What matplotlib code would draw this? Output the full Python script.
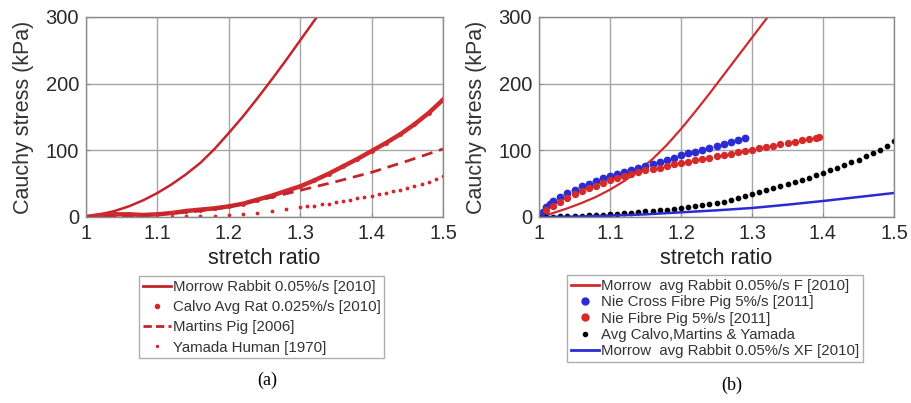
import matplotlib
matplotlib.use("Agg")
import matplotlib.pyplot as plt
from matplotlib.lines import Line2D

plt.rcParams['font.family'] = ['Liberation Sans', 'DejaVu Sans']

# ---------------- Panel (a) data ----------------
morrow_x = [1.00, 1.02, 1.04, 1.06, 1.08, 1.10, 1.12, 1.14, 1.16, 1.18, 1.20,
            1.22, 1.24, 1.26, 1.28, 1.30, 1.32, 1.33]
morrow_y = [0, 4, 9, 16, 25, 36, 49, 64, 81, 102, 126, 151, 178, 206, 235,
            265, 295, 310]

calvo_x = [1.00, 1.02, 1.04, 1.06, 1.08, 1.10, 1.12, 1.14, 1.16, 1.18, 1.20,
           1.22, 1.24, 1.26, 1.28, 1.30, 1.32, 1.34, 1.36, 1.38, 1.40, 1.42,
           1.44, 1.46, 1.48, 1.50]
calvo_y = [0, 3, 4, 4, 3, 4, 6, 9, 11, 13, 16, 20, 26, 32, 39, 46, 55, 65,
           76, 87, 99, 111, 124, 139, 156, 176]

martins_x = [1.00, 1.05, 1.10, 1.15, 1.20, 1.25, 1.30, 1.35, 1.40, 1.45, 1.50]
martins_y = [0, 1, 4, 8, 15, 27, 40, 53, 67, 84, 102]

yamada_x = [1.12, 1.14, 1.16, 1.18, 1.20, 1.22, 1.24, 1.26, 1.28, 1.30, 1.31,
            1.32, 1.33, 1.34, 1.35, 1.36, 1.37, 1.38, 1.39, 1.40, 1.41, 1.42,
            1.43, 1.44, 1.45, 1.46, 1.47, 1.48, 1.49, 1.50]
yamada_y = [0.5, 1, 1.5, 2, 3, 4, 6, 9, 12, 15, 16, 17, 19, 20, 22, 24, 26,
            28, 30, 32, 34, 36, 39, 41, 44, 47, 50, 53, 57, 61]

# ---------------- Panel (b) data ----------------
morrowF_x = [1.00, 1.02, 1.04, 1.06, 1.08, 1.10, 1.12, 1.14, 1.16, 1.18, 1.20,
             1.22, 1.24, 1.26, 1.28, 1.30, 1.32, 1.33]
morrowF_y = [0, 6, 13, 21, 30, 41, 54, 69, 87, 108, 132, 158, 185, 213, 241,
             269, 297, 311]

nieX_x = [1.00, 1.005, 1.01, 1.015, 1.02, 1.03, 1.04, 1.05, 1.06, 1.07, 1.08,
          1.09, 1.10, 1.11, 1.12, 1.13, 1.14, 1.15, 1.16, 1.17, 1.18, 1.19,
          1.20, 1.21, 1.22, 1.23, 1.24, 1.25, 1.26, 1.27, 1.28, 1.29]
nieX_y = [0, 8, 15, 20, 24, 30, 36, 41, 46, 50, 54, 58, 61, 64, 68, 71, 74,
          77, 80, 83, 86, 89, 93, 96, 98, 101, 104, 106, 109, 112, 115, 118]

nieF_x = [1.00, 1.01, 1.02, 1.03, 1.04, 1.05, 1.06, 1.07, 1.08, 1.09, 1.10,
          1.11, 1.12, 1.13, 1.14, 1.15, 1.16, 1.17, 1.18, 1.19, 1.20, 1.21,
          1.22, 1.23, 1.24, 1.25, 1.26, 1.27, 1.28, 1.29, 1.30, 1.31, 1.32,
          1.33, 1.34, 1.35, 1.36, 1.37, 1.38, 1.39, 1.395]
nieF_y = [0, 10, 17, 23, 29, 34, 39, 43, 47, 51, 55, 58, 61, 64, 67, 70, 72,
          74, 77, 79, 81, 83, 85, 87, 89, 91, 93, 95, 97, 99, 101, 103, 105,
          107, 109, 111, 113, 115, 117, 118, 120]

avg_x = [1.00, 1.01, 1.02, 1.03, 1.04, 1.05, 1.06, 1.07, 1.08, 1.09, 1.10,
         1.11, 1.12, 1.13, 1.14, 1.15, 1.16, 1.17, 1.18, 1.19, 1.20, 1.21,
         1.22, 1.23, 1.24, 1.25, 1.26, 1.27, 1.28, 1.29, 1.30, 1.31, 1.32,
         1.33, 1.34, 1.35, 1.36, 1.37, 1.38, 1.39, 1.40, 1.41, 1.42, 1.43,
         1.44, 1.45, 1.46, 1.47, 1.48, 1.49, 1.50]
avg_y = [0, 0.3, 0.6, 0.9, 1.2, 1.6, 2, 2.5, 3, 3.5, 4, 4.8, 5.6, 6.5, 7.4,
         8.3, 9.2, 10.2, 11.2, 12.2, 13.3, 14.5, 16, 17.5, 19.2, 21, 23, 25.5,
         28, 31, 34, 37, 40, 43, 46, 49, 52, 55, 59, 62.5, 66, 70, 74, 78, 82,
         86, 91, 96, 101, 107, 114]

morrowXF_x = [1.00, 1.05, 1.10, 1.15, 1.20, 1.25, 1.30, 1.35, 1.40, 1.45, 1.50]
morrowXF_y = [0, 0.5, 2, 4, 7, 10, 13.5, 18.5, 24, 30, 36]

xticks = [1, 1.1, 1.2, 1.3, 1.4, 1.5]
xticklabels = ['1', '1.1', '1.2', '1.3', '1.4', '1.5']
yticks = [0, 100, 200, 300]
yticklabels = ['0', '100', '200', '300']

labels_a = ['Morrow Rabbit 0.05%/s [2010]', 'Calvo Avg Rat 0.025%/s [2010]',
            'Martins Pig [2006]', 'Yamada Human [1970]']
labels_b = ['Morrow  avg Rabbit 0.05%/s F [2010]',
            'Nie Cross Fibre Pig 5%/s [2011]', 'Nie Fibre Pig 5%/s [2011]',
            'Avg Calvo,Martins & Yamada',
            'Morrow  avg Rabbit 0.05%/s XF [2010]']

RED = '#cf2a2e'
DRED = '#c4242c'
BLUE = '#2b2bd4'
GRID = '#a6a6a6'

fig = plt.figure(figsize=(9.12, 4.03), dpi=100)
ax1 = fig.add_axes([86/912, 1-217/403, 357/912, 200/403])
ax2 = fig.add_axes([539/912, 1-217/403, 355/912, 200/403])


def style(ax):
    ax.set_xlim(1, 1.5)
    ax.set_ylim(0, 300)
    ax.set_xticks(xticks)
    ax.set_xticklabels(xticklabels)
    ax.set_yticks(yticks)
    ax.set_yticklabels(yticklabels)
    ax.grid(True, color=GRID, lw=1.0)
    ax.set_axisbelow(True)
    for s in ax.spines.values():
        s.set_color('#8a8a8a')
        s.set_linewidth(1.0)
    ax.tick_params(direction='in', length=3, width=0.8, color='#8a8a8a',
                   labelsize=14.5, labelcolor='#2a2a2a', pad=5)
    ax.set_xlabel('stretch ratio', fontsize=15.5, color='#222222', labelpad=4)
    ax.set_ylabel('Cauchy stress (kPa)', fontsize=15.5, color='#333333',
                  labelpad=8)


# Panel (a)
ax1.plot(morrow_x, morrow_y, color=DRED, lw=1.8)
ax1.plot(calvo_x, calvo_y, color=RED, lw=3.2, marker='.', ms=5)
ax1.plot(martins_x, martins_y, color=DRED, lw=2.0, ls=(0, (4, 2.5)))
ax1.plot(yamada_x, yamada_y, color=RED, ls='none', marker='.', ms=3.5)
style(ax1)

h_a = [Line2D([], [], color=DRED, lw=2),
       Line2D([], [], color=RED, ls='none', marker='.', ms=6),
       Line2D([], [], color=DRED, lw=2, ls=(0, (3, 1.5))),
       Line2D([], [], color=RED, ls='none', marker='.', ms=3)]
leg_a = fig.legend(h_a, labels_a, loc='upper center',
                   bbox_to_anchor=(261.5/912, 1-276/403), fontsize=10.8,
                   frameon=True, fancybox=False, edgecolor='#9a9a9a',
                   handlelength=1.9, handletextpad=0.1, labelspacing=0.42,
                   borderpad=0.25, borderaxespad=0)
leg_a.get_frame().set_linewidth(1.0)
for t in leg_a.get_texts():
    t.set_color('#333333')

# Panel (b)
ax2.plot(morrowF_x, morrowF_y, color=RED, lw=1.6)
ax2.plot(nieX_x, nieX_y, color=BLUE, ls='none', marker='o', ms=4.6)
ax2.plot(nieF_x, nieF_y, color='#d42a2a', ls='none', marker='o', ms=4.3)
ax2.plot(avg_x, avg_y, color='black', ls='none', marker='o', ms=3.1)
ax2.plot(morrowXF_x, morrowXF_y, color=BLUE, lw=1.8)
style(ax2)

h_b = [Line2D([], [], color=RED, lw=2),
       Line2D([], [], color=BLUE, ls='none', marker='o', ms=5),
       Line2D([], [], color='#d42a2a', ls='none', marker='o', ms=5),
       Line2D([], [], color='black', ls='none', marker='o', ms=3),
       Line2D([], [], color=BLUE, lw=2)]
leg_b = fig.legend(h_b, labels_b, loc='upper center',
                   bbox_to_anchor=(715/912, 1-275/403), fontsize=10.8,
                   frameon=True, fancybox=False, edgecolor='#9a9a9a',
                   handlelength=1.9, handletextpad=0.1, labelspacing=0.16,
                   borderpad=0.25, borderaxespad=0)
leg_b.get_frame().set_linewidth(1.0)
for t in leg_b.get_texts():
    t.set_color('#333333')

fig.text(267/912, 1-380/403, '(a)', ha='center', va='center', fontsize=13,
         family=['Liberation Serif', 'DejaVu Serif'])
fig.text(732/912, 1-385/403, '(b)', ha='center', va='center', fontsize=13,
         family=['Liberation Serif', 'DejaVu Serif'])

fig.savefig('out.png', dpi=100)
